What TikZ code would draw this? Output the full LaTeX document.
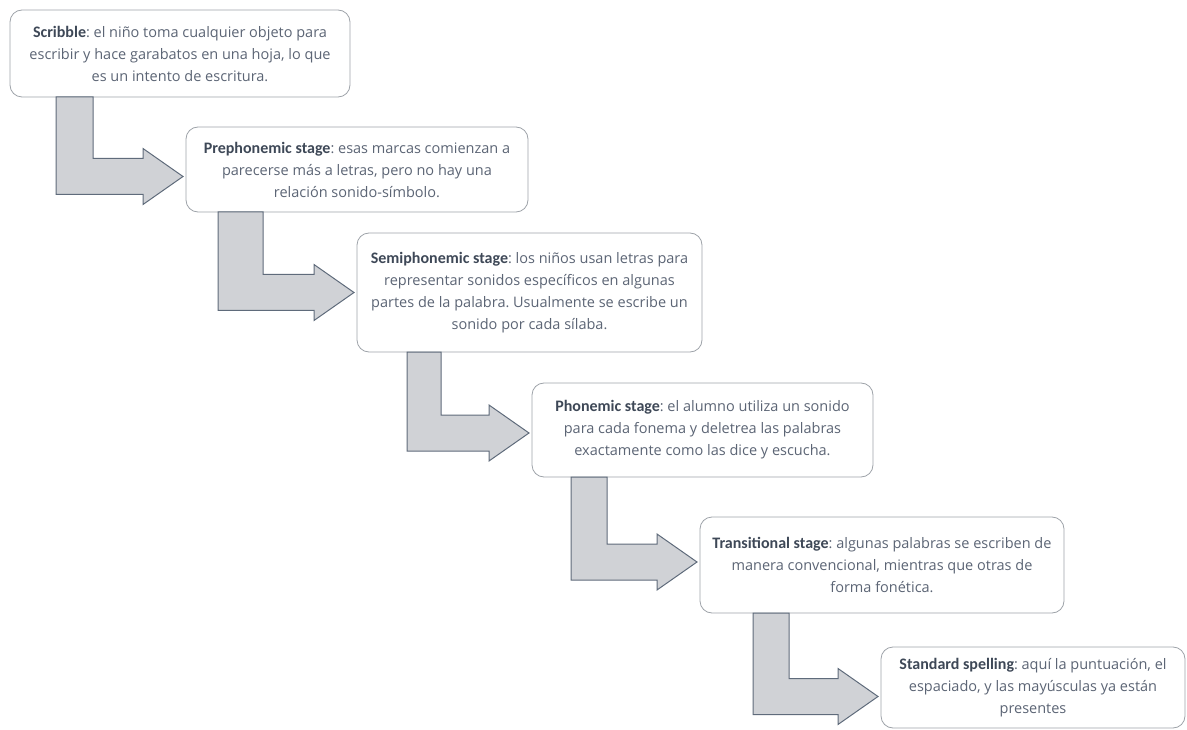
\documentclass[tikz,border=0pt]{standalone}
\usepackage{fontspec}
\setmainfont{Open Sans}
\newfontfamily\headfont{Carlito}
\usetikzlibrary{calc}

\definecolor{boxline}{HTML}{9EA3A9}
\definecolor{arrowfill}{HTML}{D0D2D6}
\definecolor{arrowline}{HTML}{5F6B7B}
\definecolor{headtext}{HTML}{3E4857}
\definecolor{bodytext}{HTML}{5C6575}

\newcommand{\stagehead}[1]{{\headfont\fontsize{16}{22}\selectfont\bfseries\color{headtext}#1}}
% #1 from box, #2 to box, #3 stem offset, #4 stem width, #5 tip shift
\newcommand{\stagearrow}[5]{%
	\draw[bentarrow] let \p1=($(#1.south west)+(#3,0)$), \p2=($(#2.west)+(-3,#5)$) in
		(\x1,\y1) -- (\x1+#4pt,\y1) -- (\x1+#4pt,\y2+18pt) -- (\x2-40pt,\y2+18pt)
		-- (\x2-40pt,\y2+28pt) -- (\p2) -- (\x2-40pt,\y2-28pt) -- (\x2-40pt,\y2-18pt)
		-- (\x1,\y2-18pt) -- cycle;}

\begin{document}
\frenchspacing
\begin{tikzpicture}[x=1pt,y=-1pt,
		stagebox/.style={draw=boxline,line width=0.8pt,fill=white,rounded corners=12pt,
			align=center,text=bodytext,font=\fontsize{14.5}{22}\selectfont,inner sep=0pt,outer sep=0pt},
		bentarrow/.style={fill=arrowfill,draw=arrowline,line width=1pt,line join=miter}]
	\useasboundingbox (0,0) rectangle (1187,730);

	\node[stagebox,minimum width=340,minimum height=87] (scribble) at (180,53.5)
		{\stagehead{Scribble}: el niño toma cualquier objeto para\\escribir y hace garabatos en una hoja, lo que\\es un intento de escritura.};
	\node[stagebox,minimum width=342,minimum height=85] (prephon) at (357,169.5)
		{\stagehead{Prephonemic stage}: esas marcas comienzan a\\parecerse más a letras, pero no hay una\\relación sonido-símbolo.};
	\node[stagebox,minimum width=345,minimum height=119] (semiphon) at (529.5,292.5)
		{\stagehead{Semiphonemic stage}: los niños usan letras para\\representar sonidos específicos en algunas\\partes de la palabra. Usualmente se escribe un\\sonido por cada sílaba.};
	\node[stagebox,minimum width=341,minimum height=94] (phon) at (702.5,430)
		{\stagehead{Phonemic stage}: el alumno utiliza un sonido\\para cada fonema y deletrea las palabras\\exactamente como las dice y escucha.};
	\node[stagebox,minimum width=364,minimum height=96] (trans) at (882,565)
		{\stagehead{Transitional stage}: algunas palabras se escriben de\\manera convencional, mientras que otras de\\forma fonética.};
	\node[stagebox,minimum width=304,minimum height=81] (standard) at (1033,687.5)
		{\stagehead{Standard spelling}: aquí la puntuación, el\\espaciado, y las mayúsculas ya están\\presentes};

	\stagearrow{scribble}{prephon}{46}{37}{7}
	\stagearrow{prephon}{semiphon}{32}{45}{0}
	\stagearrow{semiphon}{phon}{50}{34}{3}
	\stagearrow{phon}{trans}{39}{36}{-3}
	\stagearrow{trans}{standard}{53}{36}{9}
\end{tikzpicture}
\end{document}
